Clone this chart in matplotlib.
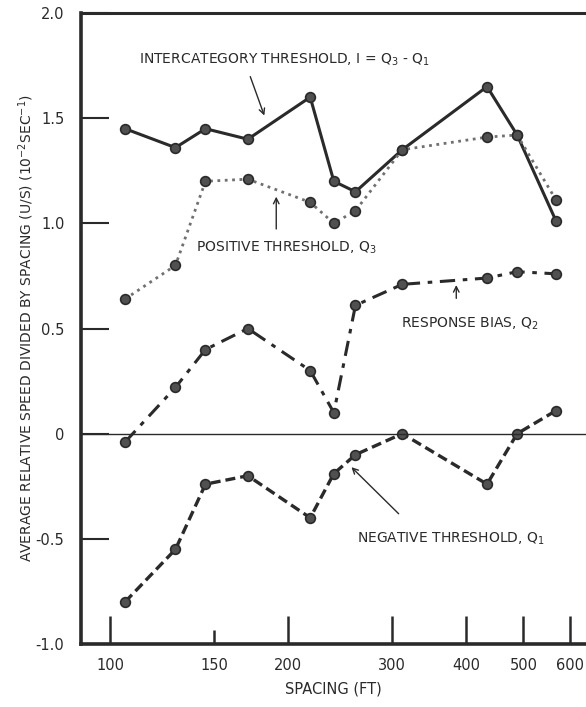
import numpy as np
import matplotlib.pyplot as plt

# spacing (ft) of the eleven data columns
spacing = [106, 129, 145, 171, 218, 239, 260, 312, 434, 488, 568]

# thresholds
inter = [1.45, 1.36, 1.45, 1.40, 1.60, 1.20, 1.15, 1.35, 1.65, 1.42, 1.01]
q3 = [0.64, 0.80, 1.20, 1.21, 1.10, 1.00, 1.06, 1.35, 1.41, 1.42, 1.11]
q2 = [-0.04, 0.22, 0.40, 0.50, 0.30, 0.10, 0.61, 0.71, 0.74, 0.77, 0.76]
q1 = [-0.80, -0.55, -0.24, -0.20, -0.40, -0.19, -0.10, 0.00, -0.24, 0.00, 0.11]

xticks = [100, 150, 200, 300, 400, 500, 600]
yticks = [2.0, 1.5, 1.0, 0.5, 0, -0.5, -1.0]
ylabels = ["2.0", "1.5", "1.0", "0.5", "0", "-0.5", "-1.0"]

plt.rcParams['font.family'] = ['Liberation Sans Narrow', 'DejaVu Sans']
ink = '#2a2a2a'

fig = plt.figure(figsize=(5.86, 7.07), dpi=100)
ax = fig.add_axes([0.1382, 0.0891, 0.8618, 0.8925])
ax.set_xscale('log')
ax.set_xlim(89.3, 638)
ax.set_ylim(-1.0, 2.0)

mk = dict(marker='o', markersize=7, markerfacecolor='#505050', markeredgecolor=ink, markeredgewidth=1.2)
ax.plot(spacing, inter, '-', color=ink, lw=2.2, **mk)
ax.plot(spacing, q3, ':', color='#707070', lw=2.0, **mk)
ax.plot(spacing, q2, '-.', color=ink, lw=2.2, dashes=(5, 2.5, 1.5, 2.5), **mk)
ax.plot(spacing, q1, '--', color=ink, lw=2.4, dashes=(3, 1.5), **mk)
ax.axhline(0, color=ink, lw=1.0)

ax.spines['right'].set_visible(False)
ax.spines['left'].set_linewidth(2.6)
ax.spines['bottom'].set_linewidth(2.6)
ax.spines['top'].set_linewidth(2.2)
for s in ax.spines.values():
    s.set_color(ink)

ax.set_yticks(yticks)
ax.set_yticklabels(ylabels)
ax.tick_params(axis='y', direction='in', length=20, width=1.5, labelsize=10.5, pad=12, colors=ink)
ax.yaxis.set_minor_locator(plt.NullLocator())
ax.set_xticks(xticks)
ax.set_xticklabels([str(v) for v in xticks])
ax.xaxis.set_minor_locator(plt.NullLocator())
ax.tick_params(axis='x', direction='in', length=20, width=1.8, labelsize=10.5, pad=10, colors=ink)
# short tick at 150
ax.xaxis.get_major_ticks()[1].tick1line.set_markersize(10)

ax.set_xlabel('SPACING (FT)', fontsize=10.5, labelpad=6, color=ink)
ax.set_ylabel('AVERAGE RELATIVE SPEED DIVIDED BY SPACING (U/S) (10$^{-2}$SEC$^{-1}$)',
              fontsize=10, labelpad=0, color=ink)

tk = dict(fontsize=10, color=ink)
ax.text(112, 1.76, 'INTERCATEGORY THRESHOLD, I = Q$_3$ - Q$_1$', **tk)
ax.text(140, 0.867, 'POSITIVE THRESHOLD, Q$_3$', **tk)
ax.text(310, 0.505, 'RESPONSE BIAS, Q$_2$', **tk)
ax.text(262, -0.52, 'NEGATIVE THRESHOLD, Q$_1$', **tk)

ap = dict(arrowstyle='->', color=ink, lw=1.0)
ax.annotate('', xy=(183, 1.50), xytext=(172, 1.71), arrowprops=ap)
ax.annotate('', xy=(191, 1.14), xytext=(191, 0.96), arrowprops=ap)
ax.annotate('', xy=(385, 0.72), xytext=(385, 0.63), arrowprops=ap)
ax.annotate('', xy=(254, -0.15), xytext=(310, -0.39), arrowprops=ap)

fig.savefig('out.png', dpi=100, facecolor='white')
